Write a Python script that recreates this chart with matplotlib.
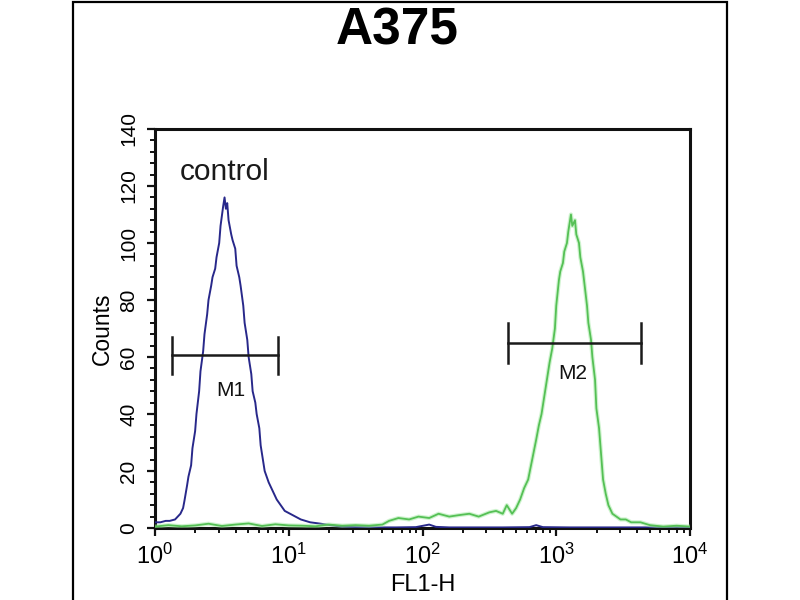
import numpy as np
import matplotlib
matplotlib.use("Agg")
import matplotlib.pyplot as plt
from matplotlib.ticker import LogLocator, MultipleLocator, NullFormatter
from matplotlib.patches import Rectangle

plt.rcParams['font.family'] = ['Liberation Sans', 'DejaVu Sans']
plt.rcParams['mathtext.fontset'] = 'custom'
plt.rcParams['mathtext.rm'] = 'Liberation Sans'
plt.rcParams['mathtext.it'] = 'Liberation Sans'

title = "A375"
x_label = "FL1-H"
y_label = "Counts"
control_label = "control"

# control (blue) histogram: log10(FL1-H) and counts
blue_log = [0.00, 0.04, 0.08, 0.11, 0.15, 0.17, 0.19, 0.21, 0.22, 0.24, 0.25, 0.27,
            0.28, 0.30, 0.31, 0.33, 0.34, 0.36, 0.37, 0.39, 0.40, 0.42, 0.43, 0.45,
            0.46, 0.48, 0.49, 0.51, 0.52, 0.53, 0.54, 0.55, 0.55, 0.57, 0.58, 0.60,
            0.61, 0.63, 0.64, 0.66, 0.67, 0.69, 0.70, 0.72, 0.73, 0.75, 0.76, 0.78,
            0.79, 0.82, 0.85, 0.88, 0.91, 0.94, 0.97, 1.01, 1.09, 1.16, 1.24, 1.31,
            1.39, 1.50, 1.65, 1.80, 1.95, 2.05, 2.10, 2.20, 2.40, 2.60, 2.80, 2.85,
            2.90, 3.10, 3.30, 3.50, 3.70, 3.90, 4.00]
blue_counts = [2.0, 2.0, 2.5, 2.5, 3.0, 4.0, 5.0, 7.0, 9.5, 15.0, 18.0, 22.0,
               28.0, 34.0, 40.0, 48.0, 55.0, 62.0, 68.0, 75.0, 80.0, 85.0, 88.0, 91.0,
               95.0, 100.0, 106.0, 113.0, 116.0, 112.0, 114.0, 108.0, 108.0, 103.0, 101.0, 98.0,
               92.0, 88.0, 85.0, 78.0, 72.0, 66.0, 60.0, 54.0, 48.0, 44.0, 40.0, 35.0,
               29.0, 20.0, 16.0, 13.0, 10.0, 8.0, 6.0, 5.0, 3.0, 2.0, 1.5, 1.0,
               0.5, 0.3, 0.2, 0.2, 0.3, 1.2, 0.4, 0.2, 0.2, 0.2, 0.3, 1.0,
               0.3, 0.2, 0.2, 0.2, 0.2, 0.2, 0.2]

# A375 (green) histogram: log10(FL1-H) and counts
green_log = [0.00, 0.10, 0.20, 0.30, 0.40, 0.50, 0.60, 0.70, 0.80, 0.90, 1.00, 1.10,
             1.20, 1.30, 1.40, 1.50, 1.60, 1.70, 1.75, 1.82, 1.90, 1.97, 2.05, 2.12,
             2.20, 2.27, 2.35, 2.42, 2.50, 2.55, 2.60, 2.63, 2.67, 2.70, 2.73, 2.76,
             2.79, 2.82, 2.85, 2.87, 2.89, 2.91, 2.93, 2.95, 2.97, 2.99, 3.00, 3.02,
             3.03, 3.05, 3.06, 3.08, 3.09, 3.11, 3.12, 3.14, 3.15, 3.17, 3.18, 3.20,
             3.21, 3.23, 3.24, 3.26, 3.27, 3.29, 3.30, 3.32, 3.35, 3.37, 3.39, 3.42,
             3.48, 3.52, 3.56, 3.63, 3.70, 3.80, 3.90, 4.00]
green_counts = [0.5, 1.0, 0.6, 0.9, 1.5, 0.7, 1.2, 1.6, 0.7, 1.3, 0.9, 0.8,
                0.6, 1.2, 0.8, 1.0, 0.8, 1.2, 2.5, 3.5, 3.0, 4.0, 3.5, 5.0,
                4.0, 4.5, 5.0, 4.0, 5.5, 6.0, 5.0, 8.0, 5.0, 7.0, 10.0, 14.0,
                17.0, 24.0, 31.0, 36.0, 40.0, 46.0, 52.0, 58.0, 63.0, 70.0, 78.0, 87.0,
                90.0, 93.0, 97.0, 100.0, 104.0, 110.0, 106.0, 108.0, 103.0, 100.0, 95.0, 90.0,
                86.0, 78.0, 72.0, 66.0, 60.0, 52.0, 42.0, 35.0, 17.0, 12.0, 8.0, 5.0,
                3.0, 3.0, 2.0, 2.0, 1.0, 0.5, 0.8, 0.5]

# marker gates
m_left = [1.34, 433.0]
m_right = [8.35, 4296.0]
m_level = [60.6, 64.9]
m_half = [6.5, 7.0]
m_names = ["M1", "M2"]
m_label_x = [3.71, 1330.0]
m_label_y = [48.3, 54.3]

fig = plt.figure(figsize=(8, 6), dpi=100)
fig.patch.set_facecolor("white")

# outer panel frame
fig.add_artist(Rectangle((73/800, -0.05), (727-73)/800, 1.05 - 2/600,
                         transform=fig.transFigure, fill=False,
                         edgecolor="black", linewidth=1.6))

ax = fig.add_axes([155/800, 1 - 528/600, (690-155)/800, (528-129)/600])

bx = 10 ** np.array(blue_log)
gx = 10 ** np.array(green_log)
ax.plot(bx, blue_counts, color="#28288a", linewidth=1.4, zorder=3)
ax.plot(gx, green_counts, color="#9fe89f", linewidth=3.0, alpha=0.5, zorder=4)
ax.plot(gx, green_counts, color="#55c055", linewidth=1.3, zorder=4)

for l, r, lev, h, name, lx, ly in zip(m_left, m_right, m_level, m_half, m_names, m_label_x, m_label_y):
    ax.plot([l, r], [lev, lev], color="#1a1a1a", linewidth=1.8, zorder=5)
    ax.plot([l, l], [lev - h, lev + h], color="#1a1a1a", linewidth=1.8, zorder=5)
    ax.plot([r, r], [lev - h, lev + h], color="#1a1a1a", linewidth=1.8, zorder=5)
    ax.text(lx, ly, name, ha="center", va="center", fontsize=15, color="#111111", zorder=6)

ax.text(3.34, 125, control_label, ha="center", va="center", fontsize=21.5, color="#1a1a1a")

ax.set_xscale("log")
ax.set_xlim(1, 1e4)
ax.set_ylim(0, 140)
ax.xaxis.set_major_locator(LogLocator(base=10, numticks=10))
ax.xaxis.set_minor_locator(LogLocator(base=10, subs=np.arange(2, 10), numticks=50))
ax.xaxis.set_minor_formatter(NullFormatter())
ax.yaxis.set_major_locator(MultipleLocator(20))
ax.yaxis.set_minor_locator(MultipleLocator(4))

for s in ax.spines.values():
    s.set_linewidth(2.2)
    s.set_color("#111111")

ax.tick_params(axis="both", which="major", direction="out", length=6, width=1.6, color="#111111")
ax.tick_params(axis="both", which="minor", direction="out", length=3.5, width=1.4, color="#111111")
ax.tick_params(axis="x", which="major", labelsize=17, pad=5)
ax.tick_params(axis="y", which="major", labelsize=15, pad=6)
for lab in ax.get_yticklabels():
    lab.set_rotation(90)
    lab.set_va("center")

ax.set_xlabel(x_label, fontsize=17, labelpad=4)
ax.set_ylabel(y_label, fontsize=16.5, labelpad=4)

fig.text(397/800, 1 - 31/600, title, ha="center", va="center", fontsize=37, fontweight="bold")

fig.savefig("out.png", dpi=100, facecolor="white")
